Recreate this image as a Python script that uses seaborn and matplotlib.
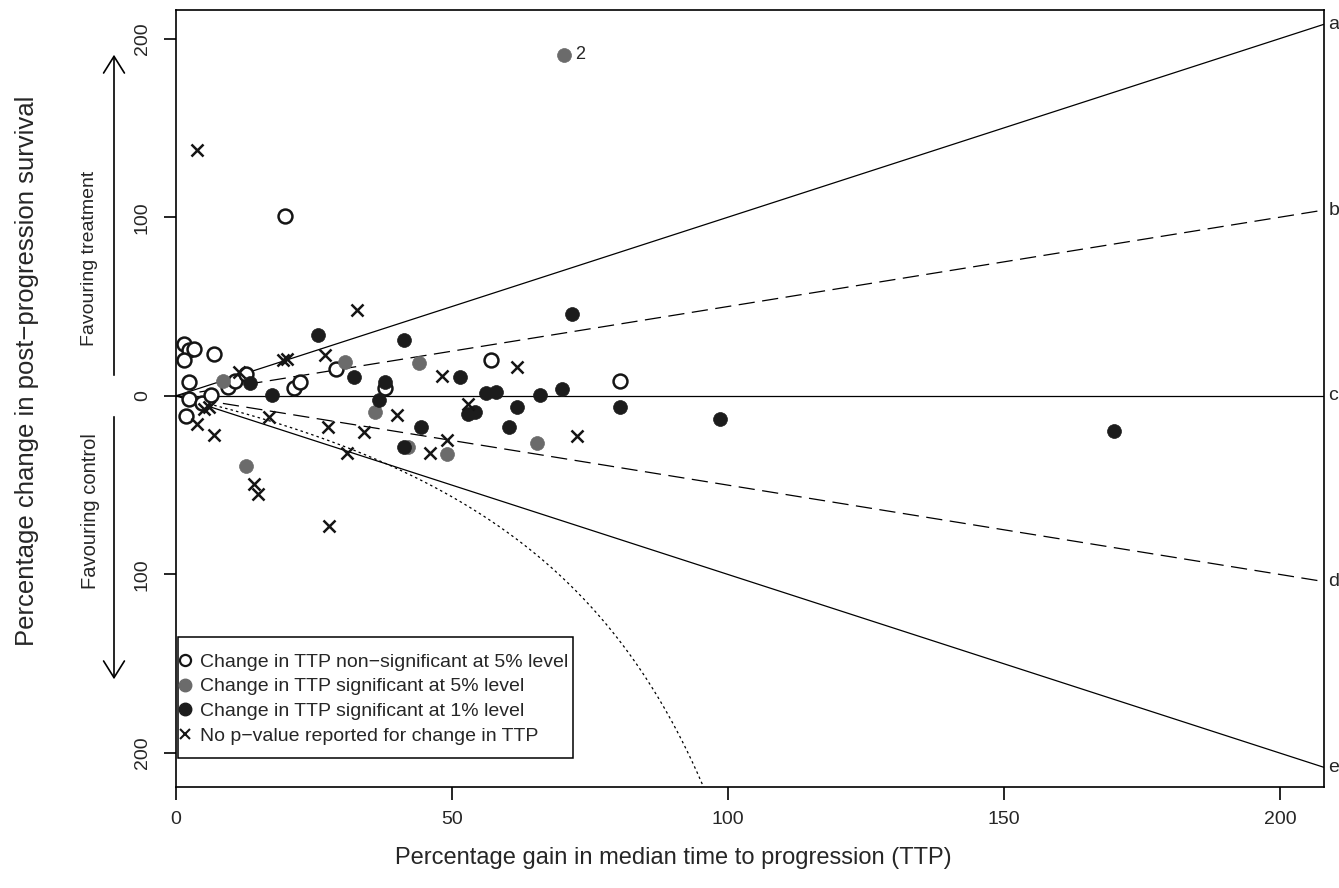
import numpy as np
import pandas as pd
import matplotlib
matplotlib.use("Agg")
import matplotlib.pyplot as plt
import seaborn as sns
from matplotlib.lines import Line2D
from matplotlib.patches import FancyArrowPatch, Rectangle

# ---------------- data ----------------
ns_x = [1.5, 2.3, 3.2, 1.5, 6.8, 2.3, 1.8, 2.4, 4.8, 6.4, 9.4, 10.7, 12.7, 21.4, 22.4, 28.9, 19.8, 37.8, 57.0, 80.5]
ns_y = [29, 25.8, 26.2, 20.2, 23.4, 7.8, -11.2, -1.9, -4.1, 0.2, 4.9, 8.4, 12.1, 4.3, 7.5, 15, 100.4, 4.3, 20.2, 8.4]

s5_x = [70.3, 8.5, 30.6, 12.7, 44.1, 36.0, 42.0, 49.1, 65.4]
s5_y = [191, 8.2, 18.9, -39.2, 18.3, -9.3, -28.4, -32.7, -26.5]

s1_x = [25.7, 32.3, 13.4, 17.4, 41.4, 37.8, 36.7, 44.4, 41.4, 51.4, 52.9, 54.2, 71.8, 56.2, 58.0,
        61.7, 60.4, 66.0, 70.0, 80.4, 98.5, 170.0]
s1_y = [34, 10.8, 7.1, 0.2, 31, 7.8, -2.6, -17.5, -28.4, 10.8, -10, -8.8, 45.9, 1.5, 2.1,
        -6, -17.2, 0.2, 3.7, -6, -13, -19.6]

np_x = [3.8, 32.8, 27.0, 19.3, 20.1, 11.5, 5.1, 6.0, 3.8, 6.8, 16.9, 27.6, 34.0, 30.9, 48.2,
        52.9, 40.0, 49.1, 46.0, 14.2, 14.9, 27.7, 61.7, 72.7]
np_y = [137.8, 48.2, 23, 20.2, 20.8, 13.6, -7.3, -6, -15.7, -21.8, -12, -17.5, -20, -32, 11.2,
        -4.5, -10.6, -24.6, -32.1, -49.5, -55.2, -72.7, 16.1, -22.4]

group_labels = ["Change in TTP non\u2212significant at 5% level",
                "Change in TTP significant at 5% level",
                "Change in TTP significant at 1% level",
                "No p\u2212value reported for change in TTP"]

ref_slopes = [1.0, 0.5, 0.0, -0.5, -1.0]
ref_names = ["a", "b", "c", "d", "e"]
ref_styles = ["-", (0, (13, 6)), "-", (0, (13, 6)), "-"]

# dotted reference curve parameters: y = -c*x / (1 - x/k)
curve_c = 0.727
curve_k = 140.0

annot_label = "2"
annot_point = (70.3, 191)

xticks = [0, 50, 100, 150, 200]
yticks = [-200, -100, 0, 100, 200]
ytick_labels = ["200", "100", "0", "100", "200"]
xlim = (0, 208)
ylim = (-219, 216)

# ---------------- figure ----------------
sns.set_style("ticks")
plt.rcParams["font.family"] = ["Liberation Sans", "DejaVu Sans"]

W, H = 1339, 888
fig = plt.figure(figsize=(W / 100, H / 100), dpi=100)
ax = fig.add_axes([176 / W, 1 - 787 / H, (1324 - 176) / W, (787 - 10) / H])
ax.set_xlim(*xlim)
ax.set_ylim(*ylim)

# reference lines
xx = np.array([0, xlim[1]])
for s, ls, nm in zip(ref_slopes, ref_styles, ref_names):
    ax.plot(xx, s * xx, color="black", lw=0.9, linestyle=ls, zorder=1)
    ax.text(1.004, s * xlim[1], nm, transform=ax.get_yaxis_transform(),
            ha="left", va="center", fontsize=14, clip_on=False)

xc = np.linspace(0, 96, 400)
yc = -curve_c * xc / (1 - xc / curve_k)
ax.plot(xc, yc, color="black", lw=0.9, linestyle=(0, (2, 2.5)), zorder=1)

# points
df = pd.concat([
    pd.DataFrame({"x": ns_x, "y": ns_y, "g": group_labels[0]}),
    pd.DataFrame({"x": s5_x, "y": s5_y, "g": group_labels[1]}),
    pd.DataFrame({"x": s1_x, "y": s1_y, "g": group_labels[2]}),
    pd.DataFrame({"x": np_x, "y": np_y, "g": group_labels[3]}),
])

ms = 100
sns.scatterplot(data=df[df.g == group_labels[0]], x="x", y="y", ax=ax, marker="o", s=ms,
                facecolor="white", edgecolor="#151515", linewidth=1.8, zorder=3, legend=False)
sns.scatterplot(data=df[df.g == group_labels[1]], x="x", y="y", ax=ax, marker="o", s=ms,
                color="#6b6b6b", edgecolor="#6b6b6b", linewidth=0.5, zorder=3, legend=False)
sns.scatterplot(data=df[df.g == group_labels[2]], x="x", y="y", ax=ax, marker="o", s=ms,
                color="#1c1c1c", edgecolor="#1c1c1c", linewidth=0.5, zorder=3, legend=False)
sns.scatterplot(data=df[df.g == group_labels[3]], x="x", y="y", ax=ax, marker="x", s=75,
                color="#151515", linewidth=1.8, zorder=3, legend=False)

ax.text(annot_point[0] + 2.0, annot_point[1], annot_label, ha="left", va="center", fontsize=13)

# legend (frame drawn separately to reproduce the roomy box)
handles = [
    Line2D([], [], marker="o", ls="none", mfc="white", mec="#151515", mew=1.6, ms=8),
    Line2D([], [], marker="o", ls="none", mfc="#6b6b6b", mec="#6b6b6b", ms=9),
    Line2D([], [], marker="o", ls="none", mfc="#1c1c1c", mec="#1c1c1c", ms=9),
    Line2D([], [], marker="x", ls="none", color="#151515", mew=1.5, ms=7),
]
leg = fig.legend(handles, group_labels, loc="upper left",
                 bbox_to_anchor=(180 / W, 1 - 653 / H), bbox_transform=fig.transFigure,
                 frameon=False, fontsize=14,
                 handlelength=0.5, handletextpad=0.55, borderpad=0.0, labelspacing=0.37,
                 borderaxespad=0.0)
fig.add_artist(Rectangle((178 / W, 1 - 758 / H), (573 - 178) / W, (758 - 637) / H,
                         transform=fig.transFigure, fill=True, facecolor="white",
                         edgecolor="black", lw=1.1, zorder=2.5))
leg.set_zorder(3)

# axes styling
for sp in ax.spines.values():
    sp.set_linewidth(1.2)
    sp.set_color("black")
ax.set_xticks(xticks)
ax.set_xticklabels([str(t) for t in xticks], fontsize=14)
ax.set_yticks(yticks)
ax.set_yticklabels(ytick_labels, fontsize=14, rotation=90, va="center")
ax.tick_params(axis="both", length=9, width=1.2, color="black")
ax.tick_params(axis="x", pad=8)
ax.tick_params(axis="y", pad=9)
ax.set_xlabel("")
ax.set_ylabel("")

fig.text(673 / W, 1 - 858 / H, "Percentage gain in median time to progression (TTP)",
         ha="center", va="center", fontsize=17)
fig.text(27 / W, 1 - 371 / H, "Percentage change in post\u2212progression survival",
         ha="center", va="center", rotation=90, fontsize=18.5)

# favouring arrows and text
fig.text(90 / W, 1 - 258 / H, "Favouring treatment", rotation=90, ha="center", va="center", fontsize=14)
fig.text(90 / W, 1 - 511 / H, "Favouring control", rotation=90, ha="center", va="center", fontsize=14.5)
fig.add_artist(FancyArrowPatch((114 / W, 1 - 378 / H), (114 / W, 1 - 52 / H),
               transform=fig.transFigure, arrowstyle="->,head_length=8,head_width=5",
               mutation_scale=1.5, lw=1.2, color="black"))
fig.add_artist(FancyArrowPatch((114 / W, 1 - 414 / H), (114 / W, 1 - 682 / H),
               transform=fig.transFigure, arrowstyle="->,head_length=8,head_width=5",
               mutation_scale=1.5, lw=1.2, color="black"))

fig.savefig("out.png", dpi=100)
